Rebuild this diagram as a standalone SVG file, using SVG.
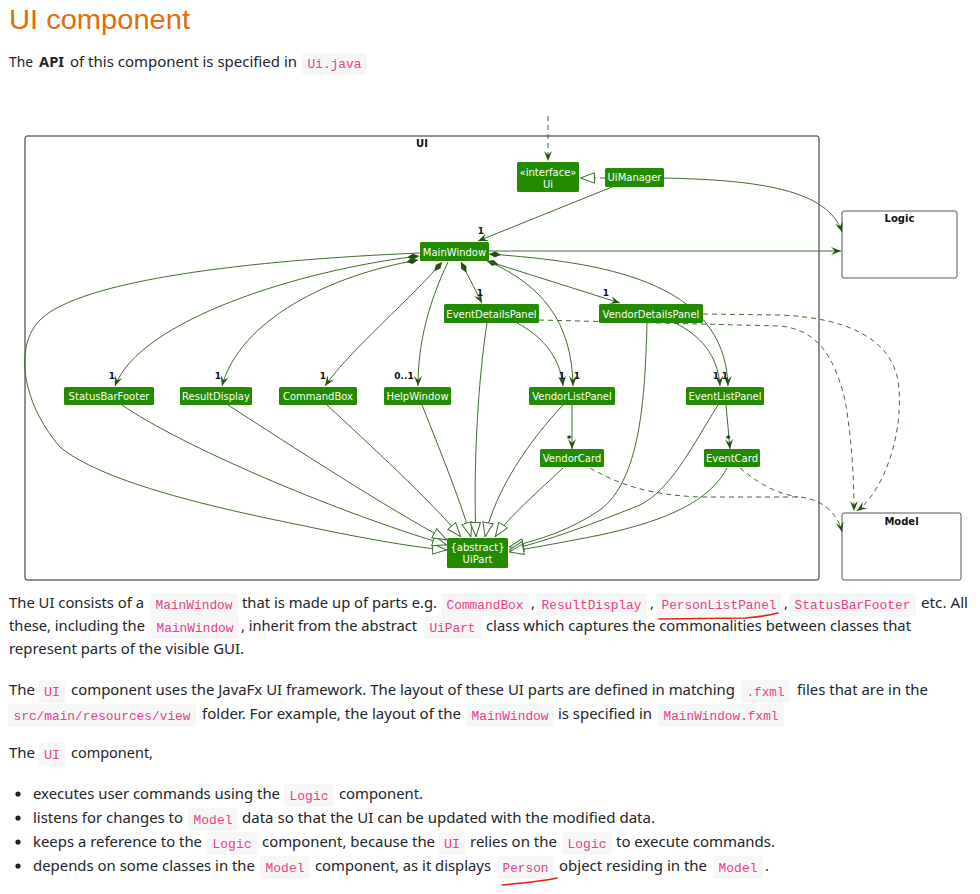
<svg xmlns="http://www.w3.org/2000/svg" width="980" height="894" viewBox="0 0 980 894">
<style>
.t{font-family:"Noto Sans","Open Sans",sans-serif;font-size:14.6px;fill:#212529}
.b{font-weight:bold}
.c{font-family:"Liberation Mono","DejaVu Sans Mono",monospace;font-size:12.8px;fill:#e83e8c}
.cb{fill:#f6f6f7}
.node rect{fill:#228b00}
.node text{font-family:"DejaVu Sans",sans-serif;font-size:10px;fill:#fff;text-anchor:middle}
.pkg rect{fill:#fff;stroke:#555;stroke-width:1}
.pkg text{font-family:"DejaVu Sans",sans-serif;font-size:10px;font-weight:bold;fill:#111;text-anchor:middle}
.e{fill:none;stroke:#3c6e2c;stroke-width:1}
.d{stroke-dasharray:5,4}
.m{font-family:"DejaVu Sans",sans-serif;font-size:9px;font-weight:bold;fill:#111;text-anchor:middle}
.red{fill:none;stroke:#e8201a;stroke-width:1.6;stroke-linecap:round}
</style>
<defs>
<marker id="arr" viewBox="0 0 10 10" refX="10" refY="5" markerWidth="10" markerHeight="10" markerUnits="userSpaceOnUse" orient="auto"><path d="M0,1 L10,5 L0,9 L4,5 Z" fill="#22500f"/></marker>
<marker id="dia" viewBox="0 0 12 8" refX="0" refY="4" markerWidth="12" markerHeight="8" markerUnits="userSpaceOnUse" orient="auto"><path d="M0,4 L6,1 L12,4 L6,7 Z" fill="#22500f"/></marker>
<marker id="tri" viewBox="0 0 15 12" refX="15" refY="6" markerWidth="15" markerHeight="12" markerUnits="userSpaceOnUse" orient="auto"><path d="M0.5,0.8 L14.5,6 L0.5,11.2 Z" fill="#fff" stroke="#3c6e2c" stroke-width="1"/></marker>
</defs>
<rect width="980" height="894" fill="#fff"/>

<!-- Heading and intro -->
<text x="9" y="29" font-family="'Liberation Sans','Noto Sans',sans-serif" font-size="28" fill="#e46c0a" textLength="181" lengthAdjust="spacingAndGlyphs">UI component</text>
<text class="t" x="9" y="67" textLength="24" lengthAdjust="spacingAndGlyphs">The</text>
<text class="t b" x="39" y="67" textLength="25" lengthAdjust="spacingAndGlyphs">API</text>
<text class="t" x="70" y="67" textLength="227" lengthAdjust="spacingAndGlyphs">of this component is specified in</text>
<rect class="cb" x="302" y="53" width="65" height="22" rx="3"/>
<text class="c" x="307.5" y="68" textLength="54" lengthAdjust="spacingAndGlyphs">Ui.java</text>

<!-- Diagram frame -->
<g id="pkg-UI">
<rect x="25" y="136" width="794" height="444" rx="2" fill="none" stroke="#222" stroke-width="1"/>
<text x="422" y="147" font-family="'DejaVu Sans',sans-serif" font-size="10" font-weight="bold" fill="#111" text-anchor="middle">UI</text>
</g>
<g id="Logic" class="pkg"><rect x="842" y="211" width="115" height="67" rx="2"/><text x="899.5" y="222">Logic</text></g>
<g id="Model" class="pkg"><rect x="842" y="513" width="119" height="67" rx="2"/><text x="901.5" y="525">Model</text></g>

<g id="connectors">
<path class="e d" d="M548,116 L548,161" marker-end="url(#arr)"/>
<path class="e d" d="M605,178 L580,178" marker-end="url(#tri)"/>
<path class="e" d="M612,187 L478,241" marker-end="url(#arr)"/>
<path class="e" d="M664,178 C760,180 828,190 842,232" marker-end="url(#arr)"/>
<path class="e" d="M489,251 L841,251" marker-end="url(#arr)"/>
<path class="e" d="M419,256 C300,270 140,320 115,386" marker-start="url(#dia)" marker-end="url(#arr)"/>
<path class="e" d="M418,260 C330,275 240,320 222,386" marker-start="url(#dia)" marker-end="url(#arr)"/>
<path class="e" d="M442,262 C410,300 350,350 325,386" marker-start="url(#dia)" marker-end="url(#arr)"/>
<path class="e" d="M448,262 C430,300 418,340 418,386" marker-end="url(#arr)"/>
<path class="e" d="M461,262 L482,303" marker-start="url(#dia)" marker-end="url(#arr)"/>
<path class="e" d="M487,261 L620,303" marker-start="url(#dia)" marker-end="url(#arr)"/>
<path class="e" d="M490,262 C540,285 572,320 573,386" marker-end="url(#arr)"/>
<path class="e" d="M489,254 C600,262 725,280 728,386" marker-start="url(#dia)" marker-end="url(#arr)"/>
<path class="e" d="M517,323 C540,335 560,355 563,386" marker-end="url(#arr)"/>
<path class="e" d="M675,323 C700,335 718,355 720,386" marker-end="url(#arr)"/>
<path class="e" d="M572,405 L572,449" marker-end="url(#arr)"/>
<path class="e" d="M726,405 L730,449" marker-end="url(#arr)"/>

<path class="e" d="M420,253 C250,260 80,280 40,320 C15,345 20,400 60,447 C100,480 200,505 300,525 C370,540 420,548 447,550" marker-end="url(#tri)"/>
<path class="e" d="M122,405 C180,445 330,510 447,545" marker-end="url(#tri)"/>
<path class="e" d="M228,405 C290,445 390,510 447,540" marker-end="url(#tri)"/>
<path class="e" d="M327,405 C370,445 430,500 461,537" marker-end="url(#tri)"/>
<path class="e" d="M422,405 C440,450 460,500 471,537" marker-end="url(#tri)"/>
<path class="e" d="M487,323 C478,380 473,470 476,537" marker-end="url(#tri)"/>
<path class="e" d="M563,405 C530,440 495,490 485,537" marker-end="url(#tri)"/>
<path class="e" d="M563,468 C540,490 510,515 495,537" marker-end="url(#tri)"/>
<path class="e" d="M647,323 C645,400 640,480 600,510 C570,530 540,540 509,547" marker-end="url(#tri)"/>
<path class="e" d="M718,405 C690,450 670,490 640,505 C590,525 550,540 509,550" marker-end="url(#tri)"/>
<path class="e" d="M727,468 C710,500 670,520 600,535 C560,543 530,548 509,552" marker-end="url(#tri)"/>

<path class="e d" d="M539,320 L780,326 C820,330 835,360 845,400 C852,440 854,480 854,511" marker-end="url(#arr)"/>
<path class="e d" d="M703,314 L780,315 C850,318 890,340 898,380 C905,430 885,490 857,511" marker-end="url(#arr)"/>
<path class="e d" d="M590,468 C620,485 650,495 700,497 L800,497 C825,500 838,515 842,532" marker-end="url(#arr)"/>
<path class="e d" d="M740,468 C755,480 770,492 798,497"/>

<text class="m" x="481" y="234">1</text>
<text class="m" x="112" y="379">1</text>
<text class="m" x="218" y="379">1</text>
<text class="m" x="323" y="379">1</text>
<text class="m" x="404" y="379">0..1</text>
<text class="m" x="480" y="296">1</text>
<text class="m" x="606" y="296">1</text>
<text class="m" x="562" y="379">1</text>
<text class="m" x="577" y="379">1</text>
<text class="m" x="716" y="379">1</text>
<text class="m" x="725" y="379">1</text>
<text class="m" x="569" y="442">*</text>
<text class="m" x="728" y="442">*</text>
</g>

<g id="Ui" class="node"><rect x="517" y="162" width="62" height="30" rx="1.5"/><text x="548" y="176">«interface»</text><text x="548" y="188">Ui</text></g>
<g id="UiManager" class="node"><rect x="605" y="168" width="59" height="19" rx="1.5"/><text x="634.5" y="181">UiManager</text></g>
<g id="MainWindow" class="node"><rect x="420" y="242" width="69" height="19" rx="1.5"/><text x="454.5" y="255.5">MainWindow</text></g>
<g id="EventDetailsPanel" class="node"><rect x="444" y="304" width="95" height="19" rx="1.5"/><text x="491.5" y="317.5">EventDetailsPanel</text></g>
<g id="VendorDetailsPanel" class="node"><rect x="599" y="304" width="104" height="19" rx="1.5"/><text x="651" y="317.5">VendorDetailsPanel</text></g>
<g id="StatusBarFooter" class="node"><rect x="64" y="387" width="90" height="18" rx="1.5"/><text x="109" y="399.5">StatusBarFooter</text></g>
<g id="ResultDisplay" class="node"><rect x="180" y="387" width="72" height="18" rx="1.5"/><text x="216" y="399.5">ResultDisplay</text></g>
<g id="CommandBox" class="node"><rect x="279" y="387" width="78" height="18" rx="1.5"/><text x="318" y="399.5">CommandBox</text></g>
<g id="HelpWindow" class="node"><rect x="384" y="387" width="67" height="18" rx="1.5"/><text x="417.5" y="399.5">HelpWindow</text></g>
<g id="VendorListPanel" class="node"><rect x="529" y="387" width="86" height="18" rx="1.5"/><text x="572" y="399.5">VendorListPanel</text></g>
<g id="EventListPanel" class="node"><rect x="686" y="387" width="78" height="18" rx="1.5"/><text x="725" y="399.5">EventListPanel</text></g>
<g id="VendorCard" class="node"><rect x="540" y="449" width="64" height="18" rx="1.5"/><text x="572" y="461.5">VendorCard</text></g>
<g id="EventCard" class="node"><rect x="704" y="449" width="56" height="18" rx="1.5"/><text x="732" y="461.5">EventCard</text></g>
<g id="UiPart" class="node"><rect x="447" y="538" width="61" height="30" rx="1.5"/><text x="477.5" y="551">{abstract}</text><text x="477.5" y="563">UiPart</text></g>

<!-- Paragraph 1 -->
<text class="t" x="9" y="608" textLength="135" lengthAdjust="spacingAndGlyphs">The UI consists of a</text>
<rect class="cb" x="150" y="593" width="88" height="23" rx="3"/><text class="c" x="155.5" y="608.5" textLength="77" lengthAdjust="spacingAndGlyphs">MainWindow</text>
<text class="t" x="242" y="608" textLength="195" lengthAdjust="spacingAndGlyphs">that is made up of parts e.g.</text>
<rect class="cb" x="441" y="593" width="88" height="23" rx="3"/><text class="c" x="446.5" y="608.5" textLength="77" lengthAdjust="spacingAndGlyphs">CommandBox</text>
<text class="t" x="531" y="608">,</text>
<rect class="cb" x="536" y="593" width="111" height="23" rx="3"/><text class="c" x="541.5" y="608.5" textLength="100" lengthAdjust="spacingAndGlyphs">ResultDisplay</text>
<text class="t" x="650" y="608">,</text>
<rect class="cb" x="656" y="593" width="126" height="23" rx="3"/><text class="c" x="661.5" y="608.5" textLength="115" lengthAdjust="spacingAndGlyphs">PersonListPanel</text>
<text class="t" x="784" y="608">,</text>
<rect class="cb" x="789" y="593" width="127" height="23" rx="3"/><text class="c" x="794.5" y="608.5" textLength="116" lengthAdjust="spacingAndGlyphs">StatusBarFooter</text>
<text class="t" x="921" y="608" textLength="47" lengthAdjust="spacingAndGlyphs">etc. All</text>

<text class="t" x="9" y="631" textLength="136" lengthAdjust="spacingAndGlyphs">these, including the</text>
<rect class="cb" x="151" y="616" width="88" height="23" rx="3"/><text class="c" x="156.5" y="631.5" textLength="77" lengthAdjust="spacingAndGlyphs">MainWindow</text>
<text class="t" x="241" y="631" textLength="176" lengthAdjust="spacingAndGlyphs">, inherit from the abstract</text>
<rect class="cb" x="424" y="616" width="57" height="23" rx="3"/><text class="c" x="429.5" y="631.5" textLength="46" lengthAdjust="spacingAndGlyphs">UiPart</text>
<text class="t" x="486" y="631" textLength="425" lengthAdjust="spacingAndGlyphs">class which captures the commonalities between classes that</text>
<text class="t" x="9" y="654" textLength="235" lengthAdjust="spacingAndGlyphs">represent parts of the visible GUI.</text>
<path class="red" d="M659,619 L745,618 C760,617 770,615 778,613"/>

<!-- Paragraph 2 -->
<text class="t" x="9" y="695" textLength="26" lengthAdjust="spacingAndGlyphs">The</text>
<rect class="cb" x="39" y="680" width="26" height="23" rx="3"/><text class="c" x="44" y="695.5" textLength="16" lengthAdjust="spacingAndGlyphs">UI</text>
<text class="t" x="71" y="695" textLength="664" lengthAdjust="spacingAndGlyphs">component uses the JavaFx UI framework. The layout of these UI parts are defined in matching</text>
<rect class="cb" x="741" y="680" width="49" height="23" rx="3"/><text class="c" x="746.5" y="695.5" textLength="38" lengthAdjust="spacingAndGlyphs">.fxml</text>
<text class="t" x="797" y="695" textLength="131" lengthAdjust="spacingAndGlyphs">files that are in the</text>

<rect class="cb" x="8" y="704" width="188" height="23" rx="3"/><text class="c" x="13.5" y="719.5" textLength="177" lengthAdjust="spacingAndGlyphs">src/main/resources/view</text>
<text class="t" x="202" y="719" textLength="259" lengthAdjust="spacingAndGlyphs">folder. For example, the layout of the</text>
<rect class="cb" x="466" y="704" width="88" height="23" rx="3"/><text class="c" x="471.5" y="719.5" textLength="77" lengthAdjust="spacingAndGlyphs">MainWindow</text>
<text class="t" x="558" y="719" textLength="94" lengthAdjust="spacingAndGlyphs">is specified in</text>
<rect class="cb" x="658" y="704" width="126" height="23" rx="3"/><text class="c" x="663.5" y="719.5" textLength="115" lengthAdjust="spacingAndGlyphs">MainWindow.fxml</text>

<text class="t" x="9" y="758" textLength="26" lengthAdjust="spacingAndGlyphs">The</text>
<rect class="cb" x="39" y="743" width="26" height="23" rx="3"/><text class="c" x="44" y="758.5" textLength="16" lengthAdjust="spacingAndGlyphs">UI</text>
<text class="t" x="71" y="758" textLength="82" lengthAdjust="spacingAndGlyphs">component,</text>

<!-- Bullets -->
<circle cx="18" cy="794" r="2.6" fill="#212529"/>
<text class="t" x="33" y="799" textLength="247" lengthAdjust="spacingAndGlyphs">executes user commands using the</text>
<rect class="cb" x="284" y="784" width="50" height="23" rx="3"/><text class="c" x="289.5" y="799.5" textLength="39" lengthAdjust="spacingAndGlyphs">Logic</text>
<text class="t" x="339" y="799" textLength="84" lengthAdjust="spacingAndGlyphs">component.</text>

<circle cx="18" cy="818" r="2.6" fill="#212529"/>
<text class="t" x="33" y="823" textLength="150" lengthAdjust="spacingAndGlyphs">listens for changes to</text>
<rect class="cb" x="188" y="808" width="50" height="23" rx="3"/><text class="c" x="193.5" y="823.5" textLength="39" lengthAdjust="spacingAndGlyphs">Model</text>
<text class="t" x="242" y="823" textLength="413" lengthAdjust="spacingAndGlyphs">data so that the UI can be updated with the modified data.</text>

<circle cx="18" cy="842" r="2.6" fill="#212529"/>
<text class="t" x="33" y="847" textLength="169" lengthAdjust="spacingAndGlyphs">keeps a reference to the</text>
<rect class="cb" x="207" y="832" width="50" height="23" rx="3"/><text class="c" x="212.5" y="847.5" textLength="39" lengthAdjust="spacingAndGlyphs">Logic</text>
<text class="t" x="262" y="847" textLength="173" lengthAdjust="spacingAndGlyphs">component, because the</text>
<rect class="cb" x="439" y="832" width="26" height="23" rx="3"/><text class="c" x="444" y="847.5" textLength="16" lengthAdjust="spacingAndGlyphs">UI</text>
<text class="t" x="470" y="847" textLength="87" lengthAdjust="spacingAndGlyphs">relies on the</text>
<rect class="cb" x="562" y="832" width="50" height="23" rx="3"/><text class="c" x="567.5" y="847.5" textLength="39" lengthAdjust="spacingAndGlyphs">Logic</text>
<text class="t" x="616" y="847" textLength="159" lengthAdjust="spacingAndGlyphs">to execute commands.</text>

<circle cx="18" cy="866" r="2.6" fill="#212529"/>
<text class="t" x="33" y="871" textLength="222" lengthAdjust="spacingAndGlyphs">depends on some classes in the</text>
<rect class="cb" x="260" y="856" width="50" height="23" rx="3"/><text class="c" x="265.5" y="871.5" textLength="39" lengthAdjust="spacingAndGlyphs">Model</text>
<text class="t" x="315" y="871" textLength="176" lengthAdjust="spacingAndGlyphs">component, as it displays</text>
<rect class="cb" x="497" y="856" width="57" height="23" rx="3"/><text class="c" x="502.5" y="871.5" textLength="46" lengthAdjust="spacingAndGlyphs">Person</text>
<text class="t" x="559" y="871" textLength="148" lengthAdjust="spacingAndGlyphs">object residing in the</text>
<rect class="cb" x="713" y="856" width="50" height="23" rx="3"/><text class="c" x="718.5" y="871.5" textLength="39" lengthAdjust="spacingAndGlyphs">Model</text>
<text class="t" x="765" y="871">.</text>
<path class="red" d="M502,885 C520,883 540,882 557,878"/>
</svg>
